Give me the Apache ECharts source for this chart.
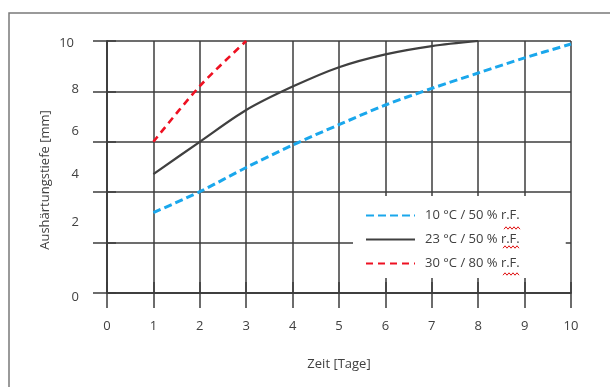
<!DOCTYPE html>
<html><head><meta charset="utf-8">
<script src="https://cdn.jsdelivr.net/npm/echarts@6/dist/echarts.min.js"></script>
<style>html,body{margin:0;padding:0;background:#fff}#c{width:610px;height:387px}</style>
</head><body><div id="c"></div>
<script>
const days = [1,2,3,4,5,6,7,8,9,10];
const s10 = [3.19, 4.02, 4.98, 5.87, 6.68, 7.46, 8.12, 8.73, 9.33, 9.88];
const days23 = [1,2,3,4,5,6,7,8];
const s23 = [4.72, 6.0, 7.26, 8.19, 8.96, 9.47, 9.8, 10.0];
const days30 = [1,2,3];
const s30 = [6.0, 8.21, 10.0];
const names = ['10 °C / 50 % r.F.', '23 °C / 50 % r.F.', '30 °C / 80 % r.F.'];
const yTitle = 'Aushärtungstiefe [mm]';
const xTitle = 'Zeit [Tage]';

const font = '"Open Sans", "Liberation Sans", sans-serif';
const fs = 13;
const txt = '#404040';
const gridC = '#3c3c3c';
function squiggle(x0, y0, w) {
  const pts = [];
  for (let i = 0; i <= w; i += 2) pts.push([x0 + i, y0 + ((i / 2) % 2 ? -1.2 : 1.2)]);
  return {type:'polyline',shape:{points:pts},style:{stroke:'#e01010',lineWidth:1,fill:null},z:100};
}
const chart = echarts.init(document.getElementById('c'), null, {renderer:'canvas'});
const pair = (xs, ys) => xs.map((x,i)=>[x, ys[i]]);
chart.setOption({
  animation:false,
  textStyle:{fontFamily:font},
  grid:{left:107,right:39,top:41,bottom:94},
  graphic:[
    {type:'rect',shape:{x:9,y:13,width:700,height:500},style:{fill:'none',stroke:'#7a7a7a',lineWidth:1.5},z:-1},
    {type:'text',x:45,y:180,rotation:Math.PI/2,style:{text:yTitle,fill:txt,font:fs+'px '+font,align:'center',verticalAlign:'middle'}},
    squiggle(504, 228, 16), squiggle(503, 247, 16), squiggle(503, 274, 16)
  ],
  xAxis:[{type:'value',min:0,max:10,interval:1,position:'bottom',
    axisLine:{show:true,onZero:false,lineStyle:{color:gridC,width:1.5}},
    axisTick:{show:true,inside:false,length:15,lineStyle:{color:gridC,width:1.5}},
    axisLabel:{margin:27,color:txt,fontSize:fs,fontFamily:font},
    splitLine:{show:true,lineStyle:{color:gridC,width:1.5}},
    name:xTitle,nameLocation:'middle',nameGap:65,nameTextStyle:{color:txt,fontSize:fs,fontFamily:font}},
   {type:'value',min:0,max:10,interval:1,position:'top',
    axisLine:{show:true,lineStyle:{color:gridC,width:1.5}},
    axisTick:{show:true,length:11,lineStyle:{color:gridC,width:1.5}},
    axisLabel:{show:false},splitLine:{show:false}}],
  yAxis:[{type:'value',min:0,max:10,interval:2,position:'left',
    axisLine:{show:true,onZero:false,lineStyle:{color:gridC,width:1.5}},
    axisTick:{show:true,length:14,lineStyle:{color:gridC,width:1.5}},
    axisLabel:{margin:28,color:txt,fontSize:fs,fontFamily:font,
      formatter:v=>'{l'+v+'|'+v+'}',
      rich:{
        l0:{padding:[8,0,0,0]},
        l2:{padding:[0,0,40,0]},
        l4:{padding:[0,0,36,0]},
        l6:{padding:[0,0,22,0]},
        l8:{padding:[0,0,4,0]},
        l10:{padding:[4,5,0,0]}
      }},
    splitLine:{show:true,lineStyle:{color:gridC,width:1.5}}},
   {type:'value',min:0,max:10,interval:2,position:'right',
    axisLine:{show:true,lineStyle:{color:gridC,width:1.5}},
    axisTick:{show:true,length:9,lineStyle:{color:gridC,width:1.5}},
    axisLabel:{show:false},splitLine:{show:false}}],
  legend:{orient:'vertical',left:353,top:196,backgroundColor:'#fff',
    padding:[13,46,8,12],itemWidth:49,itemHeight:14,itemGap:11,
    itemStyle:{opacity:0},
    textStyle:{color:txt,fontSize:fs,fontFamily:font,padding:[0,0,0,5]},
    data:names},
  series:[
    {name:names[0],type:'line',data:pair(days,s10),smooth:0.3,symbol:'none',
     lineStyle:{color:'#1aa7ec',width:3,type:[8,4]},itemStyle:{color:'#1aa7ec'}},
    {name:names[1],type:'line',data:pair(days23,s23),smooth:0.3,symbol:'none',
     lineStyle:{color:'#404040',width:2.2,type:'solid'},itemStyle:{color:'#404040'}},
    {name:names[2],type:'line',data:pair(days30,s30),smooth:0.3,symbol:'none',
     lineStyle:{color:'#ee1122',width:2.6,type:[7,5]},itemStyle:{color:'#ee1122'}}
  ]
});
</script></body></html>
